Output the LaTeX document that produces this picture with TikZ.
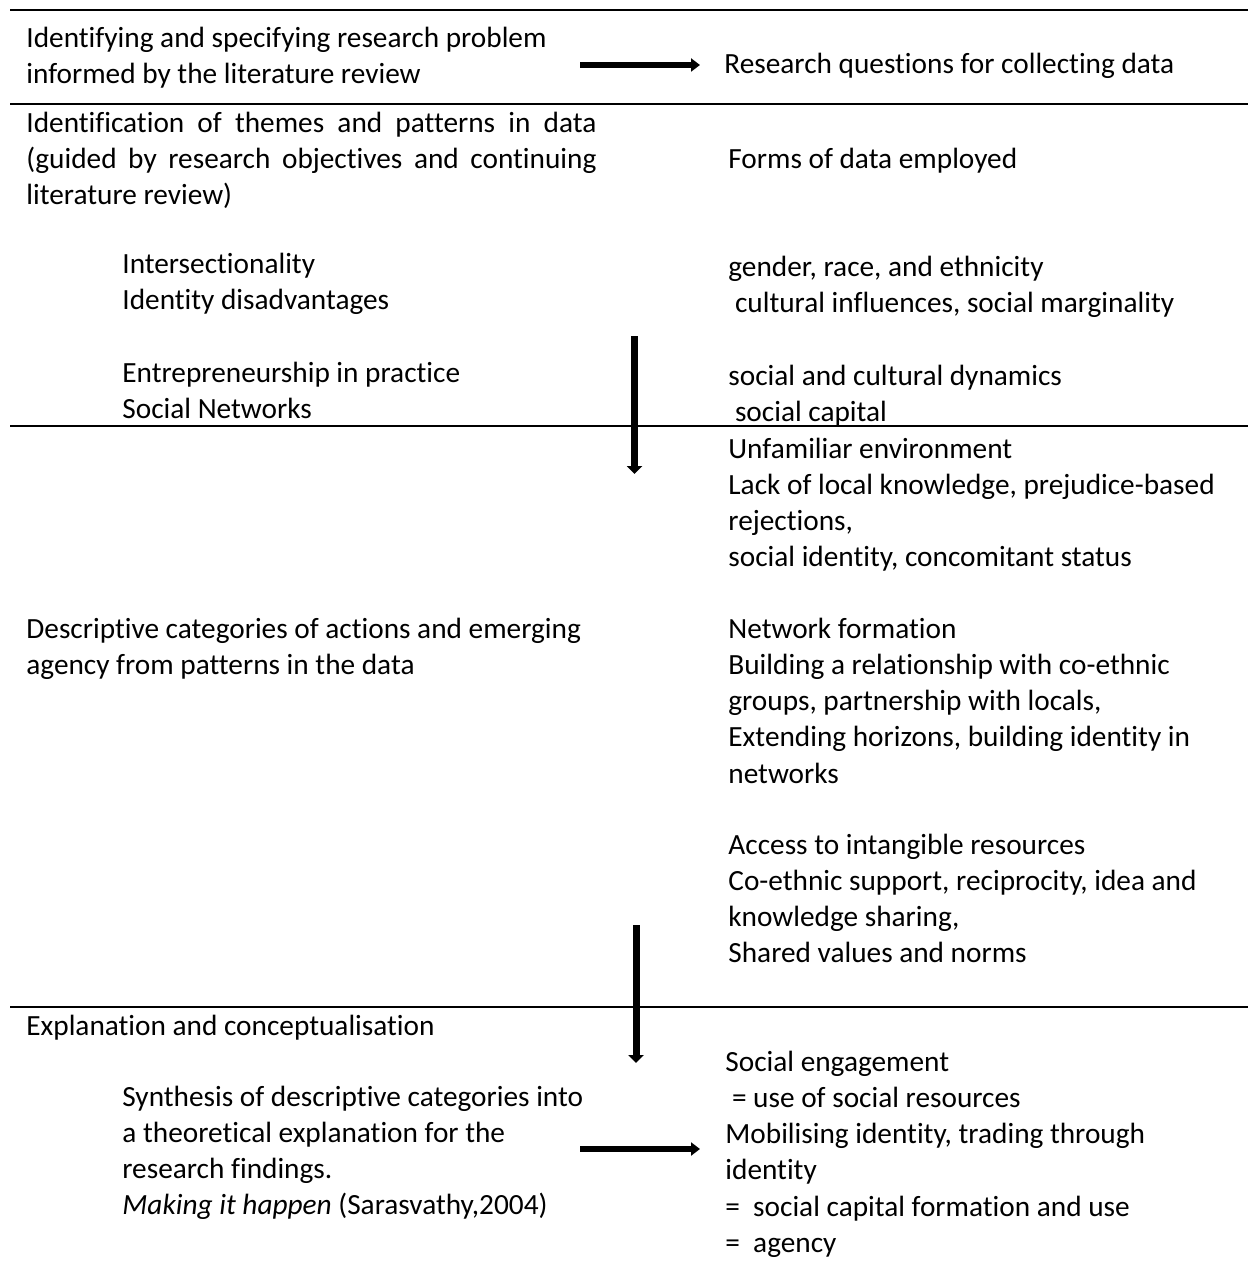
\documentclass[tikz,border=0pt]{standalone}
\usepackage{fontspec}
\setmainfont{Carlito}[Ligatures=CommonOff]
\usepackage{tikz}
\usetikzlibrary{arrows.meta}

\begin{document}
\begin{tikzpicture}[
    x=0.5pt, y=-0.5pt,
    txt/.style={anchor=north west, inner sep=0pt, align=left, font=\fontsize{14.65}{18.1}\selectfont},
    rule/.style={line width=1pt},
    harrow/.style={-{Triangle[length=4.5pt, width=6.5pt]}, line width=3pt},
    varrow/.style={-{Triangle[length=4pt, width=7.5pt]}, line width=3.5pt}
]
\useasboundingbox (0,0) rectangle (1248,1268);

% --- Reglas horizontales ---
\draw[rule] (10,10) -- (1248,10);
\draw[rule] (10,104) -- (1248,104);
\draw[rule] (10,426) -- (1248,426);
\draw[rule] (10,1006.5) -- (1248,1006.5);

% --- Fila 1: problema y preguntas ---
\node[txt] (prob) at (26,27) {Identifying and specifying research problem\\informed by the literature review};
\node[txt] (rq) at (724,52.5) {Research questions for collecting data};

% --- Fila 2: temas y formas de datos ---
\node[txt, text width=285pt, align=justify] (themes) at (26,111.5) {Identification of themes and patterns in data\linebreak (guided by research objectives and continuing\linebreak literature review)};
\node[txt] (forms) at (728,147.5) {Forms of data employed};
\node[txt] (inter) at (122,252.5) {Intersectionality\\Identity disadvantages};
\node[txt] (gender) at (728,255.5) {gender, race, and ethnicity\\~cultural influences, social marginality};
\node[txt] (entre) at (122,361.5) {Entrepreneurship in practice\\Social Networks};
\node[txt] (dyn) at (728,364.5) {social and cultural dynamics\\~social capital};

% --- Fila 3: categorias descriptivas ---
\node[txt] (unfam) at (728,437.5) {Unfamiliar environment\\Lack of local knowledge, prejudice-based\\rejections,\\social identity, concomitant status};
\node[txt] (desc) at (26,617.5) {Descriptive categories of actions and emerging\\agency from patterns in the data};
\node[txt] (netw) at (728,617.5) {Network formation\\Building a relationship with co-ethnic\\groups, partnership with locals,\\Extending horizons, building identity in\\networks};
\node[txt] (access) at (728,833.5) {Access to intangible resources\\Co-ethnic support, reciprocity, idea and\\knowledge sharing,\\Shared values and norms};

% --- Fila 4: explicacion ---
\node[txt] (expl) at (26,1014.5) {Explanation and conceptualisation};
\node[txt] (synth) at (122,1085.5) {Synthesis of descriptive categories into\\a theoretical explanation for the\\research findings.\\\textit{Making it happen} (Sarasvathy,2004)};
\node[txt] (engage) at (725,1050.5) {Social engagement\\~= use of social resources\\Mobilising identity, trading through\\identity\\=~ social capital formation and use\\=~ agency};

% --- Flechas ---
\coordinate (a1s) at (580,65);
\coordinate (a1e) at (700,65);
\coordinate (a2s) at (634.5,336);
\coordinate (a2e) at (634.5,474);
\coordinate (a3s) at (636,925);
\coordinate (a3e) at (636,1063);
\coordinate (a4s) at (580,1149);
\coordinate (a4e) at (700,1149);
\draw[harrow] (a1s) -- (a1e);
\draw[varrow] (a2s) -- (a2e);
\draw[varrow] (a3s) -- (a3e);
\draw[harrow] (a4s) -- (a4e);

\end{tikzpicture}
\end{document}
